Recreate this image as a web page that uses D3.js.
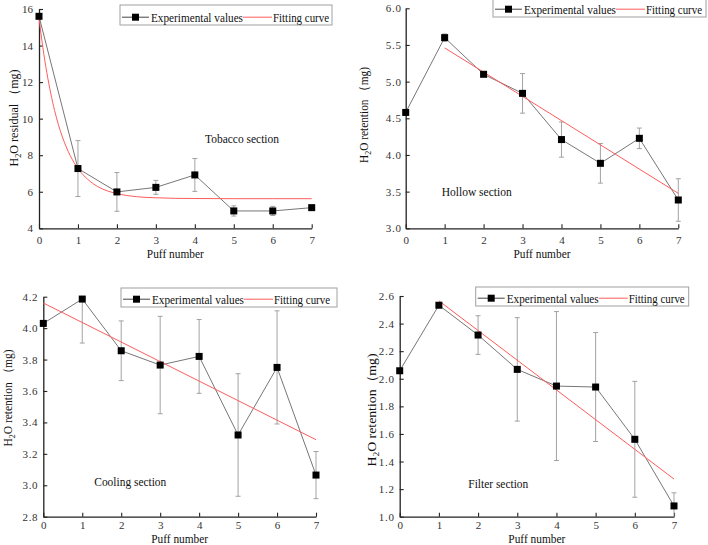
<!DOCTYPE html>
<html>
<head>
<meta charset="utf-8">
<script src="https://cdn.jsdelivr.net/npm/d3@7"></script>
<style>
  html, body { margin: 0; padding: 0; background: #fff; }
  svg { display: block; font-family: "Liberation Serif", "Times New Roman", serif; }
  svg text { font-family: "Liberation Serif", "Times New Roman", serif; }
</style>
</head>
<body>
<svg id="chart" width="708" height="545"></svg>
<script>
// ---------- data ----------
const puffs = [0, 1, 2, 3, 4, 5, 6, 7];
const xTicks = [0, 1, 2, 3, 4, 5, 6, 7];

const tobaccoVals = [15.6, 7.27, 5.99, 6.24, 6.92, 4.95, 4.95, 5.13];
const tobaccoErr  = [0, 1.53, 1.06, 0.38, 0.9, 0.28, 0.25, 0.1];
const tobaccoFitX = [0, 0.1, 0.2, 0.3, 0.4, 0.5, 0.6, 0.7, 0.8, 0.9, 1, 1.25, 1.5, 1.75, 2, 2.5, 3, 3.5, 4, 5, 6, 7];
const tobaccoFitY = [15.5, 13.88, 12.53, 11.4, 10.45, 9.66, 9.0, 8.45, 7.98, 7.6, 7.27, 6.68, 6.29, 6.05, 5.9, 5.73, 5.67, 5.64, 5.63, 5.62, 5.62, 5.62];
const tobaccoTicks = [4, 6, 8, 10, 12, 14, 16];

const hollowVals = [4.58, 5.6, 5.1, 4.84, 4.21, 3.886, 4.227, 3.386];
const hollowErr  = [0, 0.05, 0.02, 0.27, 0.24, 0.27, 0.14, 0.29];
const hollowFitX = [1, 7];
const hollowFitY = [5.46, 3.477];
const hollowTicks = [3.0, 3.5, 4.0, 4.5, 5.0, 5.5, 6.0];

const coolingVals = [4.03, 4.185, 3.856, 3.765, 3.82, 3.32, 3.75, 3.065];
const coolingErr  = [0, 0.28, 0.19, 0.31, 0.235, 0.39, 0.36, 0.15];
const coolingFitX = [0, 7];
const coolingFitY = [4.16, 3.29];
const coolingTicks = [2.8, 3.0, 3.2, 3.4, 3.6, 3.8, 4.0, 4.2];

const filterVals = [2.058, 2.533, 2.317, 2.068, 1.947, 1.94, 1.561, 1.078];
const filterErr  = [0, 0.01, 0.14, 0.375, 0.54, 0.395, 0.42, 0.095];
const filterFitX = [1, 7];
const filterFitY = [2.565, 1.273];
const filterTicks = [1.0, 1.2, 1.4, 1.6, 1.8, 2.0, 2.2, 2.4, 2.6];

const legendLabels = ["Experimental values", "Fitting curve"];
const xLabel = "Puff number";

// ---------- drawing ----------
const svg = d3.select("#chart");
const defs = svg.append("defs");
const SERIF = "'Liberation Serif', 'Times New Roman', serif";

function drawPanel(o) {
  const x = d3.scaleLinear().domain([0, 7]).range(o.xr);
  const y = d3.scaleLinear().domain([o.ticks[0], o.ticks[o.ticks.length - 1]]).range(o.yr);
  const g = svg.append("g");

  const clipId = "clip" + o.id;
  defs.append("clipPath").attr("id", clipId).append("rect")
    .attr("x", o.xr[0] - 6).attr("y", o.yr[1])
    .attr("width", o.xr[1] - o.xr[0] + 12).attr("height", o.yr[0] - o.yr[1]);

  // axes
  const xAxis = d3.axisBottom(x).tickValues(xTicks).tickFormat(d3.format("d"))
    .tickSizeInner(-4).tickSizeOuter(0).tickPadding(o.xpad);
  const yAxis = d3.axisLeft(y).tickValues(o.ticks).tickFormat(o.fmt)
    .tickSizeInner(-4).tickSizeOuter(0).tickPadding(o.ypad);

  const gx = g.append("g").attr("transform", `translate(0,${o.yr[0]})`).call(xAxis);
  const gy = g.append("g").attr("transform", `translate(${o.xr[0]},0)`).call(yAxis);
  [gx, gy].forEach(a => {
    a.attr("font-family", SERIF).attr("font-size", 11);
    a.select(".domain").attr("stroke", "#222").attr("stroke-width", 1.3);
    a.selectAll(".tick line").attr("stroke", "#222").attr("stroke-width", 1.1);
    a.selectAll(".tick text").attr("fill", "#333").attr("font-size", 11)
      .style("font-family", SERIF);
  });
  if (o.spaced) gy.selectAll(".tick text").attr("letter-spacing", 0.7);
  gx.selectAll(".tick text").attr("dy", "0.75em");

  // error bars
  const eb = g.append("g").attr("clip-path", `url(#${clipId})`)
    .attr("stroke", "#999").attr("stroke-width", 0.9);
  puffs.forEach((p, i) => {
    const e = o.err[i];
    if (!e) return;
    const cx = x(p), y1 = y(o.vals[i] + e), y2 = y(o.vals[i] - e);
    eb.append("line").attr("x1", cx).attr("x2", cx).attr("y1", y1).attr("y2", y2);
    eb.append("line").attr("x1", cx - 2.5).attr("x2", cx + 2.5).attr("y1", y1).attr("y2", y1);
    eb.append("line").attr("x1", cx - 2.5).attr("x2", cx + 2.5).attr("y1", y2).attr("y2", y2);
  });

  // experimental line
  const line = d3.line().x(d => x(d[0])).y(d => y(d[1]));
  g.append("path").datum(puffs.map((p, i) => [p, o.vals[i]]))
    .attr("d", line).attr("fill", "none").attr("stroke", "#666").attr("stroke-width", 0.9);

  // fitting curve
  const fitLine = d3.line().x(d => x(d[0])).y(d => y(d[1])).curve(d3.curveMonotoneX);
  g.append("path").datum(o.fitX.map((v, i) => [v, o.fitY[i]]))
    .attr("d", fitLine).attr("fill", "none").attr("stroke", "#ff5c5c").attr("stroke-width", 1);

  // markers
  g.append("g").selectAll("rect").data(puffs).join("rect")
    .attr("x", (p) => x(p) - 3.5).attr("y", (p, i) => y(o.vals[i]) - 3.5)
    .attr("width", 7).attr("height", 7).attr("fill", "#000");

  // legend
  const L = o.legend;
  g.append("rect").attr("x", L.x).attr("y", L.y).attr("width", L.w).attr("height", L.h)
    .attr("fill", "#fff").attr("stroke", "#a0a0a0").attr("stroke-width", 1);
  const base = L.y + L.h - 3.5;
  const ly = base - 4.3;
  g.append("line").attr("x1", L.x + 2).attr("x2", L.x + 29).attr("y1", ly).attr("y2", ly)
    .attr("stroke", "#444").attr("stroke-width", 1);
  g.append("rect").attr("x", L.x + 12).attr("y", ly - 3.5).attr("width", 7).attr("height", 7).attr("fill", "#000");
  g.append("text").attr("x", L.x + 31).attr("y", base).attr("font-size", 12.5)
    .attr("textLength", 92).attr("lengthAdjust", "spacingAndGlyphs").attr("fill", "#111")
    .text(legendLabels[0]);
  g.append("line").attr("x1", L.x + 123).attr("x2", L.x + 152).attr("y1", ly).attr("y2", ly)
    .attr("stroke", "#ff5c5c").attr("stroke-width", 1);
  g.append("text").attr("x", L.x + 153).attr("y", base).attr("font-size", 11.8)
    .attr("textLength", 56).attr("lengthAdjust", "spacingAndGlyphs").attr("fill", "#111")
    .text(legendLabels[1]);

  // section annotation
  g.append("text").attr("x", o.note.x).attr("y", o.note.y).attr("font-size", 12.5)
    .attr("textLength", o.note.w).attr("lengthAdjust", "spacingAndGlyphs").attr("fill", "#111")
    .text(o.note.text);

  // x label
  g.append("text").attr("x", (o.xr[0] + o.xr[1]) / 2 + o.xlDx).attr("y", o.xlY)
    .attr("text-anchor", "middle").attr("font-size", o.xlSize)
    .attr("textLength", 57).attr("lengthAdjust", "spacingAndGlyphs").attr("fill", "#111")
    .text(xLabel);

  // y label
  const yl = g.append("text")
    .attr("transform", `translate(${o.ylab.x},${o.ylab.y}) rotate(-90)`)
    .attr("text-anchor", "middle").attr("font-size", 13).attr("fill", "#111")
    .attr("textLength", o.ylab.w).attr("lengthAdjust", "spacingAndGlyphs");
  yl.append("tspan").text("H");
  yl.append("tspan").attr("font-size", 9).attr("dy", 3).text("2");
  yl.append("tspan").attr("dy", -3).text("O " + o.ylab.word + o.ylab.sep + "（mg)");
}

drawPanel({
  id: 1, xr: [39, 311.7], yr: [228.3, 9], ticks: tobaccoTicks, fmt: d3.format("d"), ypad: 6, xpad: 7, spaced: false,
  vals: tobaccoVals, err: tobaccoErr, fitX: tobaccoFitX, fitY: tobaccoFitY,
  legend: { x: 120, y: 5, w: 212, h: 20 },
  note: { text: "Tobacco section", x: 205, y: 142.5, w: 74 },
  xlDx: 0, xlY: 257.5, xlSize: 13,
  ylab: { x: 18, y: 118, w: 97, word: "residual", sep: "  " }
});
drawPanel({
  id: 2, xr: [405.7, 678.3], yr: [228.3, 8.3], ticks: hollowTicks, fmt: d3.format(".1f"), ypad: 4, xpad: 7, spaced: true,
  vals: hollowVals, err: hollowErr, fitX: hollowFitX, fitY: hollowFitY,
  legend: { x: 493, y: -2, w: 213, h: 19 },
  note: { text: "Hollow section", x: 441.7, y: 196, w: 70 },
  xlDx: 0, xlY: 257.5, xlSize: 13,
  ylab: { x: 368, y: 115, w: 96, word: "retention", sep: "  " }
});
drawPanel({
  id: 3, xr: [43.3, 316], yr: [516.7, 296.7], ticks: coolingTicks, fmt: d3.format(".1f"), ypad: 5, xpad: 4.5, spaced: true,
  vals: coolingVals, err: coolingErr, fitX: coolingFitX, fitY: coolingFitY,
  legend: { x: 121, y: 288, w: 216, h: 19 },
  note: { text: "Cooling section", x: 94.3, y: 485.5, w: 72 },
  xlDx: 0, xlY: 542.5, xlSize: 12,
  ylab: { x: 12, y: 398, w: 97, word: "retention", sep: "  " }
});
drawPanel({
  id: 4, xr: [399.7, 674], yr: [516.7, 296], ticks: filterTicks, fmt: d3.format(".1f"), ypad: 5, xpad: 4.5, spaced: true,
  vals: filterVals, err: filterErr, fitX: filterFitX, fitY: filterFitY,
  legend: { x: 475.7, y: 287, w: 213, h: 19 },
  note: { text: "Filter section", x: 468.3, y: 487.5, w: 60 },
  xlDx: 0, xlY: 542.5, xlSize: 12,
  ylab: { x: 376, y: 410, w: 113, word: "retention", sep: "" }
});
</script>
</body>
</html>
